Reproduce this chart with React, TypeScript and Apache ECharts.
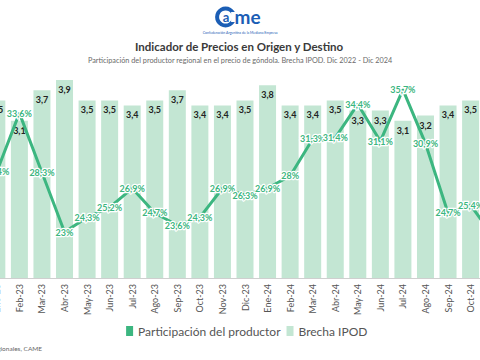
import React, { useEffect, useRef } from "react";
import * as echarts from "echarts";

const categories = [
  "Dic-22", "Ene-23", "Feb-23", "Mar-23", "Abr-23", "May-23", "Jun-23", "Jul-23", "Ago-23",
  "Sep-23", "Oct-23", "Nov-23", "Dic-23", "Ene-24", "Feb-24", "Mar-24", "Abr-24", "May-24",
  "Jun-24", "Jul-24", "Ago-24", "Sep-24", "Oct-24", "Nov-24", "Dic-24",
];
const brechaIPOD = [
  3.4, 3.5, 3.1, 3.7, 3.9, 3.5, 3.5, 3.4, 3.5, 3.7, 3.4, 3.4, 3.5, 3.8, 3.4, 3.4, 3.5, 3.3,
  3.3, 3.1, 3.2, 3.4, 3.5, 3.6, 3.5,
];
const participacion = [
  29.1, 28.4, 33.6, 28.3, 23, 24.3, 25.2, 26.9, 24.7, 23.6, 24.3, 26.9, 26.3, 26.9, 28, 31.3,
  31.4, 34.4, 31.1, 35.7, 30.9, 24.7, 25.4, 22.6, 24.1,
];

const FONT = "Lato";
const LINE = "#3cb680";
const BAR = "#c3e6d3";
const BLUE = "#1b5eb5";

// the visible 480px window is a crop of a wider chart
const OFF = 37.1;
const CHART_W = 563.75;

const fmt = (v: number) => String(v).replace(".", ",");

export default function App() {
  const ref = useRef<HTMLDivElement>(null);
  useEffect(() => {
    if (!ref.current) return;
    const chart = echarts.init(ref.current, null, { renderer: "svg" });
    const X = (x: number) => x + OFF;
    chart.setOption({
      animation: false,
      backgroundColor: "#ffffff",
      textStyle: { fontFamily: FONT },
      graphic: [
        {
          type: "ring",
          shape: { cx: X(225.5), cy: 17, r: 10.5, r0: 6.5 },
          style: { fill: BLUE },
        },
        {
          type: "rect",
          shape: { x: X(231), y: 12, width: 6, height: 10 },
          style: { fill: "#ffffff" },
        },
        {
          type: "text",
          x: X(226),
          y: 17,
          style: {
            text: "a",
            fill: BLUE,
            font: `bold 13px ${FONT}`,
            verticalAlign: "middle",
            textAlign: "center",
          },
        },
        {
          type: "text",
          x: X(234.5),
          y: 16,
          style: {
            text: "me",
            fill: BLUE,
            font: `bold 19px ${FONT}`,
            verticalAlign: "middle",
            textAlign: "left",
          },
        },
        {
          type: "text",
          x: X(240),
          y: 33,
          style: {
            text: "Confederación Argentina de la Mediana Empresa",
            fill: BLUE,
            font: `3.5px ${FONT}`,
            textAlign: "center",
            verticalAlign: "middle",
          },
        },
        {
          type: "text",
          x: X(239),
          y: 46,
          style: {
            text: "Indicador de Precios en Origen y Destino",
            fill: "#3a3a3a",
            font: `bold 11.5px ${FONT}`,
            textAlign: "center",
            verticalAlign: "middle",
          },
        },
        {
          type: "text",
          x: X(240),
          y: 60,
          style: {
            text: "Participación del productor regional en el precio de góndola. Brecha IPOD. Dic 2022 - Dic 2024",
            fill: "#6a6a6a",
            font: `7.3px ${FONT}`,
            textAlign: "center",
            verticalAlign: "middle",
          },
        },
        {
          type: "text",
          x: X(42),
          y: 348,
          style: {
            text: "Fuente: Precios en economías regionales, CAME",
            fill: "#666666",
            font: `6.5px ${FONT}`,
            textAlign: "right",
            verticalAlign: "middle",
          },
        },
      ],
      legend: {
        left: X(121),
        top: 320,
        itemWidth: 7,
        itemHeight: 10,
        itemGap: 6,
        icon: "rect",
        textStyle: { fontFamily: FONT, fontSize: 12, color: "#555555" },
        data: [
          { name: "Participación del productor", itemStyle: { color: LINE } },
          { name: "Brecha IPOD", itemStyle: { color: BAR } },
        ],
      },
      grid: { left: 0, right: 0, top: 75, bottom: 82, containLabel: false },
      xAxis: {
        type: "category",
        data: categories,
        axisLine: { lineStyle: { color: "#cfcfcf" } },
        axisTick: { alignWithLabel: true, lineStyle: { color: "#cfcfcf" }, length: 4 },
        axisLabel: {
          rotate: 90,
          interval: 0,
          fontSize: 9,
          color: "#555555",
          fontFamily: FONT,
          margin: 6,
        },
      },
      yAxis: [
        { type: "value", min: 0, max: 4, show: false, splitLine: { show: false } },
        { type: "value", min: 18.9, max: 37, show: false, splitLine: { show: false } },
      ],
      series: [
        {
          name: "Brecha IPOD",
          type: "bar",
          yAxisIndex: 0,
          data: brechaIPOD,
          barWidth: 17,
          itemStyle: { color: BAR },
          label: {
            show: true,
            position: "insideTop",
            distance: 5,
            fontSize: 9,
            fontWeight: "bold",
            color: "#222222",
            fontFamily: FONT,
            formatter: (p: any) => fmt(p.value),
          },
        },
        {
          name: "Participación del productor",
          type: "line",
          yAxisIndex: 1,
          data: participacion,
          symbol: "circle",
          symbolSize: 2,
          lineStyle: { color: LINE, width: 3 },
          itemStyle: { color: LINE },
          label: {
            show: true,
            position: "inside",
            fontSize: 9,
            fontWeight: "bold",
            color: LINE,
            textBorderColor: "#ffffff",
            textBorderWidth: 2.5,
            fontFamily: FONT,
            formatter: (p: any) => fmt(p.value) + "%",
          },
        },
      ],
    });
    return () => chart.dispose();
  }, []);
  return (
    <div style={{ position: "absolute", left: 0, top: 0, width: 480, height: 360, overflow: "hidden", background: "#fff" }}>
      <div ref={ref} style={{ position: "absolute", left: -OFF, top: 0, width: CHART_W, height: 360 }} />
    </div>
  );
}
